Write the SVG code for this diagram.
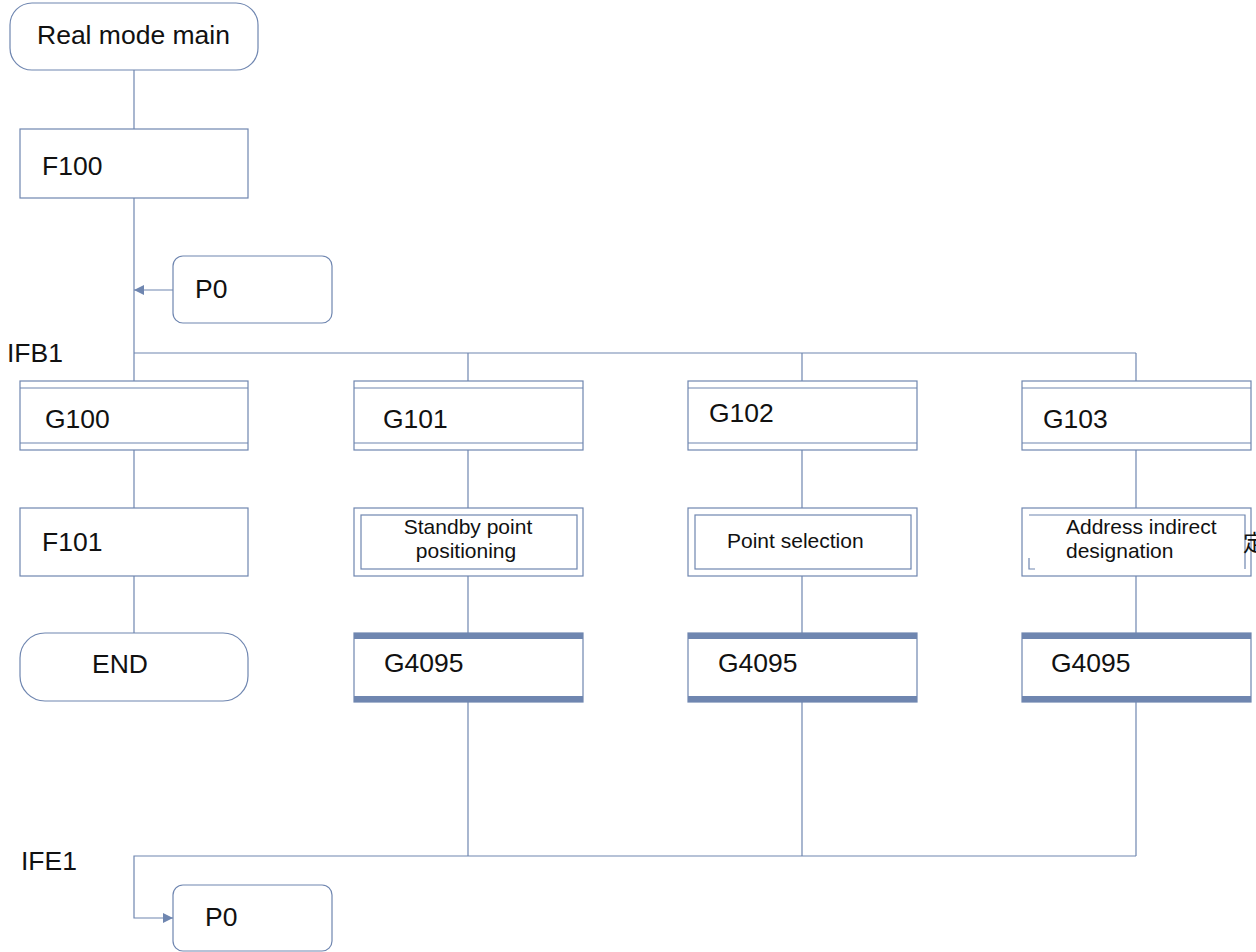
<svg xmlns="http://www.w3.org/2000/svg" width="1256" height="952" viewBox="0 0 1256 952">
<style>
.n{fill:#fff;stroke:#6f86b0;stroke-width:1.2}
.ln{fill:none;stroke:#6f86b0;stroke-width:1.2}
.bar{fill:#6f86b0;stroke:none}
.t{font-family:"Liberation Sans",Arial,sans-serif;font-size:26.5px;fill:#111}
.s{font-family:"Liberation Sans",Arial,sans-serif;font-size:21px;fill:#111}
</style>
<defs>
<marker id="ah" viewBox="0 0 10 10" refX="10" refY="5" markerWidth="10" markerHeight="10" markerUnits="userSpaceOnUse" orient="auto">
<path d="M0,0 L10,5 L0,10 z" fill="#6f86b0"/>
</marker>
</defs>
<rect width="1256" height="952" fill="#fff"/>
<g id="connectors">
<line class="ln" x1="134" y1="70" x2="134" y2="381"/>
<line class="ln" x1="173" y1="290" x2="134" y2="290" marker-end="url(#ah)"/>
<polyline class="ln" points="134,353 1136,353"/>
<line class="ln" x1="468" y1="353" x2="468" y2="381"/>
<line class="ln" x1="802" y1="353" x2="802" y2="381"/>
<line class="ln" x1="1136" y1="353" x2="1136" y2="381"/>
<line class="ln" x1="134" y1="450" x2="134" y2="508"/>
<line class="ln" x1="468" y1="450" x2="468" y2="508"/>
<line class="ln" x1="802" y1="450" x2="802" y2="508"/>
<line class="ln" x1="1136" y1="450" x2="1136" y2="508"/>
<line class="ln" x1="134" y1="576" x2="134" y2="633"/>
<line class="ln" x1="468" y1="576" x2="468" y2="633"/>
<line class="ln" x1="802" y1="576" x2="802" y2="633"/>
<line class="ln" x1="1136" y1="576" x2="1136" y2="633"/>
<line class="ln" x1="468" y1="702" x2="468" y2="856"/>
<line class="ln" x1="802" y1="702" x2="802" y2="856"/>
<line class="ln" x1="1136" y1="702" x2="1136" y2="856"/>
<polyline class="ln" points="1136,856 134,856 134,918 173,918" marker-end="url(#ah)"/>
</g>
<g id="start">
<rect class="n" x="10" y="3" width="248" height="67" rx="22"/>
<text class="t" x="37" y="44">Real mode main</text>
</g>
<g id="F100">
<rect class="n" x="20" y="129" width="228" height="69"/>
<text class="t" x="42" y="175">F100</text>
</g>
<g id="P0top">
<rect class="n" x="173" y="256" width="159" height="67" rx="10"/>
<text class="t" x="195" y="298">P0</text>
</g>
<g id="IFB1"><text class="t" x="7" y="362">IFB1</text></g>
<g id="G100">
<rect class="n" x="20" y="381" width="228" height="69"/>
<line class="ln" x1="20" y1="388" x2="248" y2="388"/><line class="ln" x1="20" y1="443" x2="248" y2="443"/>
<text class="t" x="45" y="428">G100</text>
</g>
<g id="G101">
<rect class="n" x="354" y="381" width="229" height="69"/>
<line class="ln" x1="354" y1="388" x2="583" y2="388"/><line class="ln" x1="354" y1="443" x2="583" y2="443"/>
<text class="t" x="383" y="428">G101</text>
</g>
<g id="G102">
<rect class="n" x="688" y="381" width="229" height="69"/>
<line class="ln" x1="688" y1="388" x2="917" y2="388"/><line class="ln" x1="688" y1="443" x2="917" y2="443"/>
<text class="t" x="709" y="422">G102</text>
</g>
<g id="G103">
<rect class="n" x="1022" y="381" width="229" height="69"/>
<line class="ln" x1="1022" y1="388" x2="1251" y2="388"/><line class="ln" x1="1022" y1="443" x2="1251" y2="443"/>
<text class="t" x="1043" y="428">G103</text>
</g>
<g id="F101">
<rect class="n" x="20" y="508" width="228" height="68"/>
<text class="t" x="42" y="551">F101</text>
</g>
<g id="standby">
<rect class="n" x="354" y="508" width="229" height="68"/>
<rect class="n" x="361" y="515" width="216" height="54"/>
<text class="s" x="468" y="534" text-anchor="middle">Standby point</text>
<text class="s" x="466" y="558" text-anchor="middle">positioning</text>
</g>
<g id="pointsel">
<rect class="n" x="688" y="508" width="229" height="68"/>
<rect class="n" x="695" y="515" width="216" height="54"/>
<text class="s" x="727" y="548">Point selection</text>
</g>
<g id="addr">
<rect class="n" x="1022" y="508" width="229" height="68"/>
<path class="ln" d="M1029,515 H1245 V569 M1029,558 V569 H1035"/>
<text class="s" x="1066" y="534">Address indirect</text>
<text class="s" x="1066" y="558">designation</text>
<text x="1243" y="551" style="font-family:'Noto Sans CJK JP','Noto Sans CJK SC',sans-serif;font-size:23px;fill:#111">定</text>
</g>
<g id="END">
<rect class="n" x="20" y="633" width="228" height="68" rx="25"/>
<text class="t" x="120" y="673" text-anchor="middle">END</text>
</g>
<g id="G4095a">
<rect class="n" x="354" y="633" width="229" height="69"/>
<rect class="bar" x="354" y="633" width="229" height="6"/>
<rect class="bar" x="354" y="696" width="229" height="6"/>
<text class="t" x="384" y="672">G4095</text>
</g>
<g id="G4095b">
<rect class="n" x="688" y="633" width="229" height="69"/>
<rect class="bar" x="688" y="633" width="229" height="6"/>
<rect class="bar" x="688" y="696" width="229" height="6"/>
<text class="t" x="718" y="672">G4095</text>
</g>
<g id="G4095c">
<rect class="n" x="1022" y="633" width="229" height="69"/>
<rect class="bar" x="1022" y="633" width="229" height="6"/>
<rect class="bar" x="1022" y="696" width="229" height="6"/>
<text class="t" x="1051" y="672">G4095</text>
</g>
<g id="IFE1"><text class="t" x="21" y="870">IFE1</text></g>
<g id="P0bottom">
<rect class="n" x="173" y="885" width="159" height="66" rx="10"/>
<text class="t" x="205" y="926">P0</text>
</g>
</svg>
